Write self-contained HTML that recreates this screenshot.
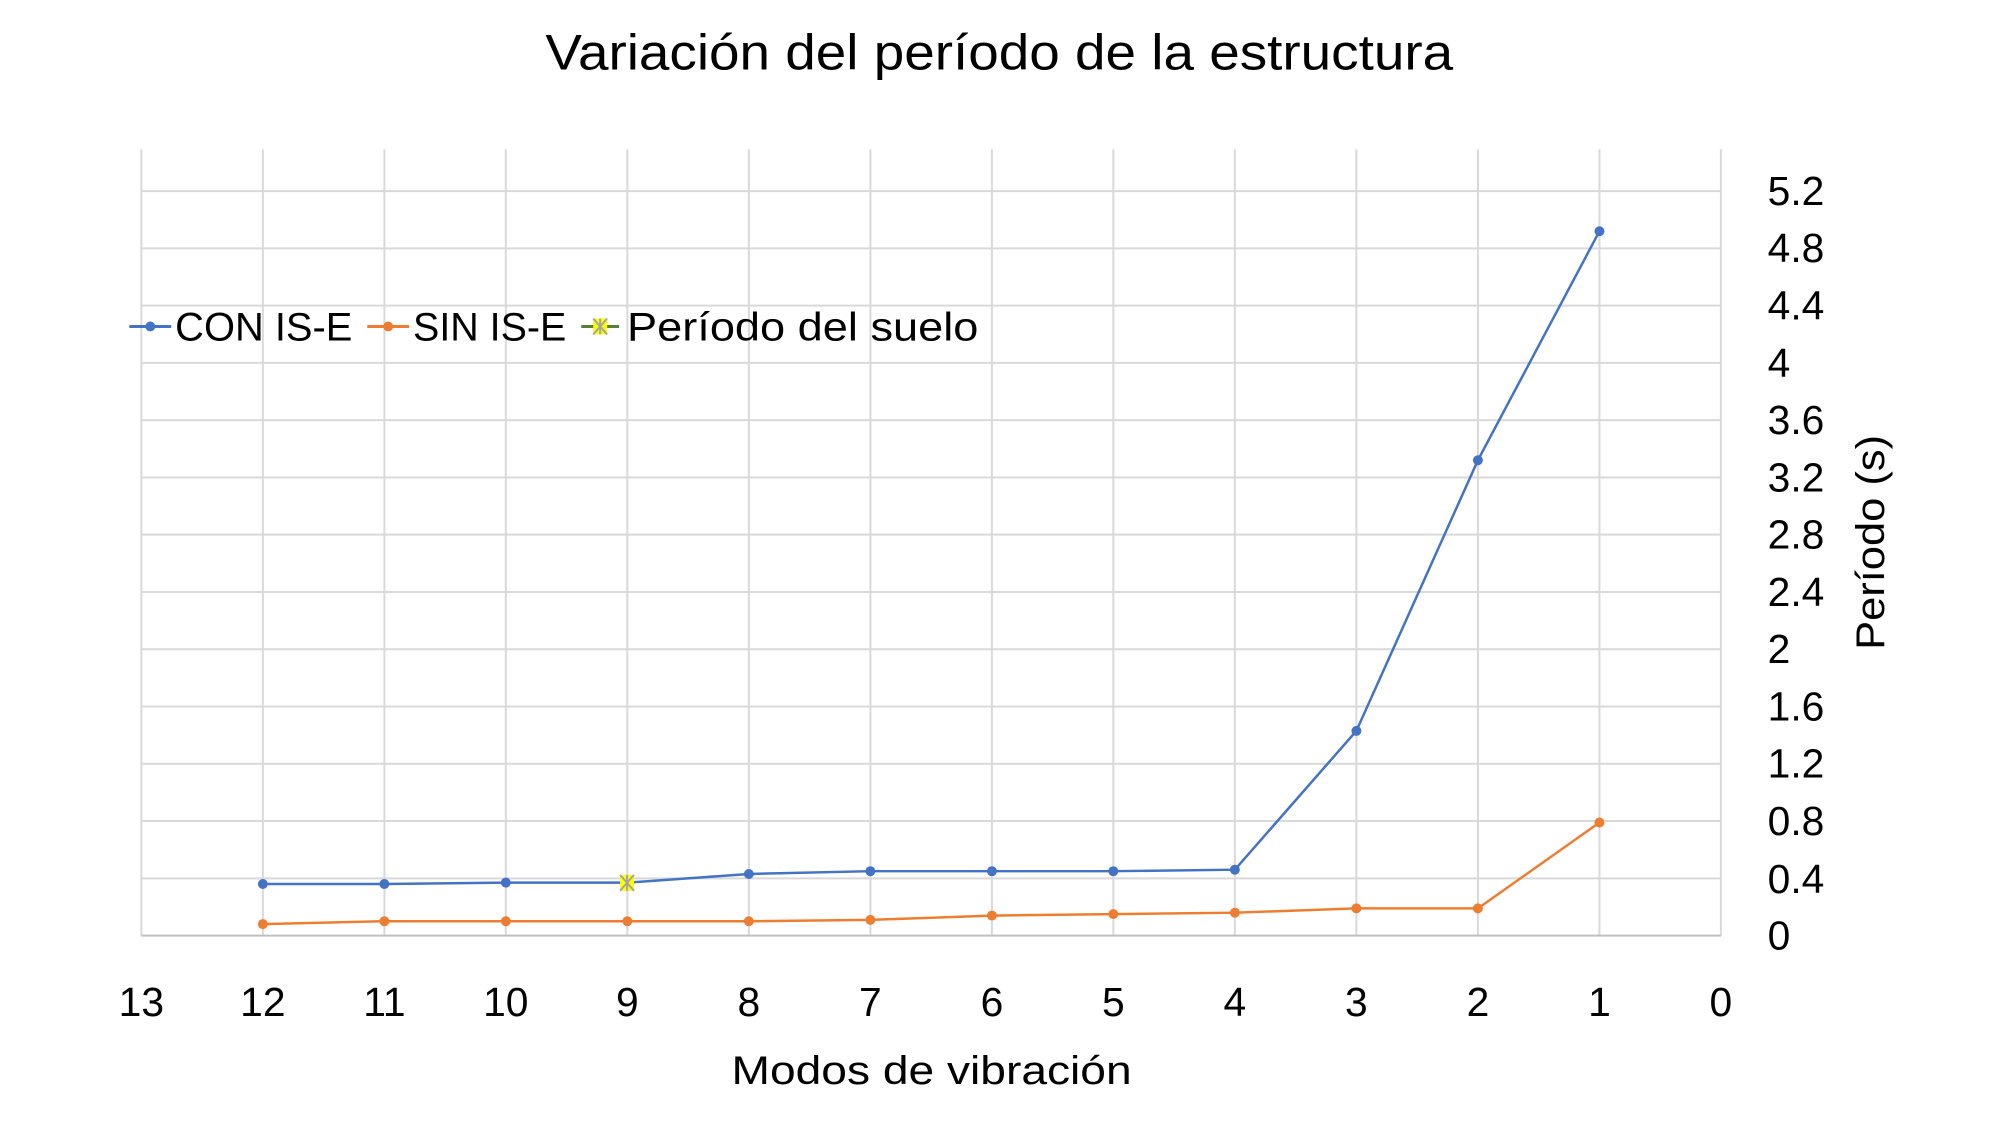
<!DOCTYPE html>
<html><head><meta charset="utf-8"><style>html,body{margin:0;padding:0;background:#fff}svg{display:block}text{font-family:"Liberation Sans",sans-serif;fill:#000}</style></head><body>
<svg width="2000" height="1125" viewBox="0 0 2000 1125" xmlns="http://www.w3.org/2000/svg">
<rect width="2000" height="1125" fill="#fff"/>
<g transform="scale(0.9953)">
<text x="1004" y="70" font-size="50" text-anchor="middle" textLength="912" lengthAdjust="spacingAndGlyphs">Variación del período de la estructura</text>
<g stroke="#d9d9d9" stroke-width="2">
<line x1="142" y1="150" x2="142" y2="940"/><line x1="264.1" y1="150" x2="264.1" y2="940"/><line x1="386.2" y1="150" x2="386.2" y2="940"/><line x1="508.2" y1="150" x2="508.2" y2="940"/><line x1="630.3" y1="150" x2="630.3" y2="940"/><line x1="752.4" y1="150" x2="752.4" y2="940"/><line x1="874.5" y1="150" x2="874.5" y2="940"/><line x1="996.6" y1="150" x2="996.6" y2="940"/><line x1="1118.6" y1="150" x2="1118.6" y2="940"/><line x1="1240.7" y1="150" x2="1240.7" y2="940"/><line x1="1362.8" y1="150" x2="1362.8" y2="940"/><line x1="1484.9" y1="150" x2="1484.9" y2="940"/><line x1="1607" y1="150" x2="1607" y2="940"/><line x1="1729" y1="150" x2="1729" y2="940"/>
<line x1="142" y1="882.5" x2="1729" y2="882.5"/><line x1="142" y1="824.9" x2="1729" y2="824.9"/><line x1="142" y1="767.4" x2="1729" y2="767.4"/><line x1="142" y1="709.8" x2="1729" y2="709.8"/><line x1="142" y1="652.3" x2="1729" y2="652.3"/><line x1="142" y1="594.8" x2="1729" y2="594.8"/><line x1="142" y1="537.2" x2="1729" y2="537.2"/><line x1="142" y1="479.7" x2="1729" y2="479.7"/><line x1="142" y1="422.1" x2="1729" y2="422.1"/><line x1="142" y1="364.6" x2="1729" y2="364.6"/><line x1="142" y1="307.1" x2="1729" y2="307.1"/><line x1="142" y1="249.5" x2="1729" y2="249.5"/><line x1="142" y1="192" x2="1729" y2="192"/>
</g>
<line x1="142" y1="940" x2="1729" y2="940" stroke="#bfbfbf" stroke-width="2"/>
<polyline fill="none" stroke="#4472c4" stroke-width="2.5" points="264.1,888.2 386.2,888.2 508.2,886.8 630.3,886.8 752.4,878.1 874.5,875.3 996.6,875.3 1118.6,875.3 1240.7,873.8 1362.8,734.3 1484.9,462.4 1607,232.3"/>
<g fill="#4472c4"><circle cx="264.1" cy="888.2" r="5"/><circle cx="386.2" cy="888.2" r="5"/><circle cx="508.2" cy="886.8" r="5"/><circle cx="752.4" cy="878.1" r="5"/><circle cx="874.5" cy="875.3" r="5"/><circle cx="996.6" cy="875.3" r="5"/><circle cx="1118.6" cy="875.3" r="5"/><circle cx="1240.7" cy="873.8" r="5"/><circle cx="1362.8" cy="734.3" r="5"/><circle cx="1484.9" cy="462.4" r="5"/><circle cx="1607" cy="232.3" r="5"/></g>
<polyline fill="none" stroke="#ed7d31" stroke-width="2.5" points="264.1,928.5 386.2,925.6 508.2,925.6 630.3,925.6 752.4,925.6 874.5,924.2 996.6,919.9 1118.6,918.4 1240.7,917 1362.8,912.7 1484.9,912.7 1607,826.4"/>
<g fill="#ed7d31"><circle cx="264.1" cy="928.5" r="5"/><circle cx="386.2" cy="925.6" r="5"/><circle cx="508.2" cy="925.6" r="5"/><circle cx="630.3" cy="925.6" r="5"/><circle cx="752.4" cy="925.6" r="5"/><circle cx="874.5" cy="924.2" r="5"/><circle cx="996.6" cy="919.9" r="5"/><circle cx="1118.6" cy="918.4" r="5"/><circle cx="1240.7" cy="917" r="5"/><circle cx="1362.8" cy="912.7" r="5"/><circle cx="1484.9" cy="912.7" r="5"/><circle cx="1607" cy="826.4" r="5"/></g>
<rect x="623" y="879" width="14" height="16" fill="#ffff00"/>
<path d="M623,879 L637,895 M637,879 L623,895 M630,879 L630,895" stroke="#a5a5a5" stroke-width="2"/>
<g font-size="41" text-anchor="start">
<text x="1776" y="206">5.2</text><text x="1776" y="263">4.8</text><text x="1776" y="321">4.4</text><text x="1776" y="379">4</text><text x="1776" y="436">3.6</text><text x="1776" y="494">3.2</text><text x="1776" y="551">2.8</text><text x="1776" y="609">2.4</text><text x="1776" y="666">2</text><text x="1776" y="724">1.6</text><text x="1776" y="781">1.2</text><text x="1776" y="839">0.8</text><text x="1776" y="897">0.4</text><text x="1776" y="954">0</text>
</g>
<g font-size="41" text-anchor="middle">
<text x="142" y="1021">13</text><text x="264.1" y="1021">12</text><text x="386.2" y="1021">11</text><text x="508.2" y="1021">10</text><text x="630.3" y="1021">9</text><text x="752.4" y="1021">8</text><text x="874.5" y="1021">7</text><text x="996.6" y="1021">6</text><text x="1118.6" y="1021">5</text><text x="1240.7" y="1021">4</text><text x="1362.8" y="1021">3</text><text x="1484.9" y="1021">2</text><text x="1607" y="1021">1</text><text x="1729" y="1021">0</text>
</g>
<text x="936" y="1089" font-size="40" text-anchor="middle" textLength="402" lengthAdjust="spacingAndGlyphs">Modos de vibración</text>
<text transform="translate(1893,545) rotate(-90)" font-size="40" text-anchor="middle" textLength="216" lengthAdjust="spacingAndGlyphs">Período (s)</text>
<g font-size="40">
<line x1="130" y1="328" x2="172" y2="328" stroke="#4472c4" stroke-width="3"/><circle cx="151" cy="328" r="5" fill="#4472c4"/>
<text x="176" y="342" textLength="178" lengthAdjust="spacingAndGlyphs">CON IS-E</text>
<line x1="369" y1="328" x2="411" y2="328" stroke="#ed7d31" stroke-width="3"/><circle cx="390" cy="328" r="5" fill="#ed7d31"/>
<text x="415" y="342" textLength="154" lengthAdjust="spacingAndGlyphs">SIN IS-E</text>
<line x1="584" y1="328" x2="622" y2="328" stroke="#548235" stroke-width="3"/><rect x="596" y="320" width="14" height="16" fill="#ffff00"/>
<path d="M596,320 L610,336 M610,320 L596,336 M603,320 L603,336" stroke="#a5a5a5" stroke-width="2"/>
<text x="630" y="342" textLength="353" lengthAdjust="spacingAndGlyphs">Período del suelo</text>
</g>
</g>
</svg>
</body></html>
